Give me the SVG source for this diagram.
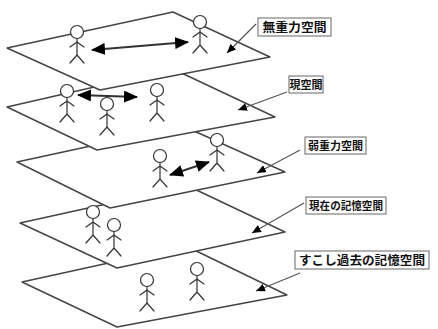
<svg xmlns="http://www.w3.org/2000/svg" width="438" height="329" viewBox="0 0 438 329">
  <defs>
    <style>
      .plane { fill: #fff; stroke: #444; stroke-width: 1.4; stroke-linejoin: round; }
      .fig { fill: none; stroke: #333; stroke-width: 1.2; stroke-linecap: round; }
      .fig circle { fill: #fff; }
      .move { stroke: #333; stroke-width: 2; fill: none; }
      .lead { stroke: #555; stroke-width: 1.2; fill: none; }
      .tag rect { fill: #fff; stroke: #666; stroke-width: 1; }
      .tag text { font-family: "Noto Sans CJK JP", "Noto Sans", sans-serif; font-weight: 700; fill: #111; text-anchor: middle; }
    </style>
    <marker id="bigHead" viewBox="0 0 14 12" refX="13" refY="6" markerUnits="userSpaceOnUse" markerWidth="14" markerHeight="12" orient="auto-start-reverse">
      <path d="M0,0 L14,6 L0,12 z" fill="#000"/>
    </marker>
    <marker id="tip" viewBox="0 0 9 8" refX="9" refY="4" markerUnits="userSpaceOnUse" markerWidth="9" markerHeight="8" orient="auto">
      <path d="M0,0 L9,4 L0,8 z" fill="#000"/>
    </marker>
    <!-- stick figure, head centre at origin -->
    <g id="person" class="fig">
      <circle cx="0" cy="0" r="6.5"/>
      <path d="M0,6.5 V23 M-7,15 L0,10 L7,15 M-7,31 L0,23 L7,31"/>
    </g>
  </defs>

  <!-- layers, drawn from the bottom up -->
  <g id="layer5">
    <polygon class="plane" points="22,282 186,246 287,295 117,327"/>
  </g>
  <g id="layer4">
    <polygon class="plane" points="20,223 188,186 285,232 117,268"/>
  </g>
  <g id="layer3">
    <polygon class="plane" points="17,162 183,126 285,172 110,208"/>
  </g>
  <g id="layer2">
    <polygon class="plane" points="7,107 173,69 275,117 97,150"/>
  </g>
  <g id="layer1">
    <polygon class="plane" points="7,48 173,12 270,57 100,90"/>
  </g>

  <!-- people standing on each layer -->
  <g id="people">
    <use href="#person" x="77" y="32"/>
    <use href="#person" x="200" y="22"/>
    <use href="#person" x="67" y="91"/>
    <use href="#person" x="107" y="104"/>
    <use href="#person" x="157" y="90"/>
    <use href="#person" x="160" y="156"/>
    <use href="#person" x="217" y="140"/>
    <use href="#person" x="93" y="212"/>
    <use href="#person" x="114" y="225"/>
    <use href="#person" x="147" y="280"/>
    <use href="#person" x="197" y="269"/>
  </g>

  <!-- connectors: movement arrows and label leaders -->
  <g id="connectors">
    <line class="move" x1="92" y1="50" x2="188" y2="42" marker-start="url(#bigHead)" marker-end="url(#bigHead)"/>
    <line class="move" x1="78" y1="95" x2="137" y2="97" marker-start="url(#bigHead)" marker-end="url(#bigHead)"/>
    <line class="move" x1="170" y1="175" x2="209" y2="162" marker-start="url(#bigHead)" marker-end="url(#bigHead)"/>

    <line class="lead" x1="256" y1="24" x2="227" y2="53" marker-end="url(#tip)"/>
    <line class="lead" x1="287" y1="92" x2="238" y2="110" marker-end="url(#tip)"/>
    <line class="lead" x1="300" y1="150" x2="257" y2="173" marker-end="url(#tip)"/>
    <line class="lead" x1="304" y1="203" x2="252" y2="233" marker-end="url(#tip)"/>
    <line class="lead" x1="300" y1="273" x2="256" y2="291" marker-end="url(#tip)"/>
  </g>

  <!-- labels -->
  <g id="label1" class="tag">
    <rect x="258" y="18" width="73" height="18"/>
    <text x="294.5" y="31.5" font-size="12" textLength="64" lengthAdjust="spacingAndGlyphs">無重力空間</text>
  </g>
  <g id="label2" class="tag">
    <rect x="289" y="76" width="34" height="17"/>
    <text x="306" y="88.5" font-size="11">現空間</text>
  </g>
  <g id="label3" class="tag">
    <rect x="305" y="137" width="61" height="17"/>
    <text x="335.5" y="149.5" font-size="11" textLength="55" lengthAdjust="spacingAndGlyphs">弱重力空間</text>
  </g>
  <g id="label4" class="tag">
    <rect x="306" y="197" width="80" height="17"/>
    <text x="346" y="209.5" font-size="11" textLength="74" lengthAdjust="spacingAndGlyphs">現在の記憶空間</text>
  </g>
  <g id="label5" class="tag">
    <rect x="295" y="251" width="134" height="18"/>
    <text x="362" y="264.5" font-size="12" textLength="126" lengthAdjust="spacingAndGlyphs">すこし過去の記憶空間</text>
  </g>
</svg>
